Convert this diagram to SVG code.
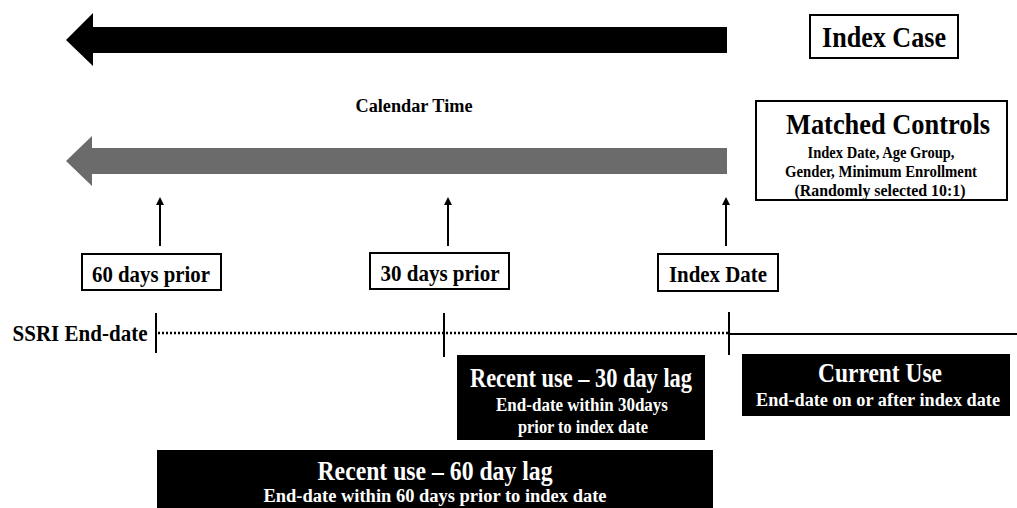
<svg xmlns="http://www.w3.org/2000/svg" width="1017" height="508" viewBox="0 0 1017 508">
<style>
text{font-family:"Liberation Serif","Times New Roman",serif;font-weight:bold;text-anchor:middle}
.box{fill:#fff;stroke:#000;stroke-width:2}
.blk{fill:#000}
.w{fill:#fff}
.ln{stroke:#000;stroke-width:2;fill:none}
</style>
<g id="index-case-arrow"><polygon points="66,40 93,13 93,27 727,27 727,53 93,53 93,66" fill="#000"/></g>
<g id="index-case"><rect class="box" x="810" y="15" width="148" height="43"/><text x="884" y="47" font-size="30" textLength="124" lengthAdjust="spacingAndGlyphs">Index Case</text></g>
<g id="calendar-time"><text x="414" y="112" font-size="18" textLength="117" lengthAdjust="spacingAndGlyphs">Calendar Time</text></g>
<g id="controls-arrow"><polygon points="66,161 92,136 92,148 727,148 727,174 92,174 92,186" fill="#6b6b6b"/></g>
<g id="matched-controls"><rect class="box" x="756" y="101" width="251" height="99"/>
<text x="888" y="134" font-size="29" textLength="204" lengthAdjust="spacingAndGlyphs">Matched Controls</text>
<text x="881" y="158" font-size="17" textLength="147" lengthAdjust="spacingAndGlyphs">Index Date, Age Group,</text>
<text x="881" y="177" font-size="17" textLength="192" lengthAdjust="spacingAndGlyphs">Gender, Minimum Enrollment</text>
<text x="880" y="196" font-size="17" textLength="171" lengthAdjust="spacingAndGlyphs">(Randomly selected 10:1)</text></g>
<g id="connectors">
<line class="ln" x1="160" y1="246" x2="160" y2="202"/><polygon points="160,197 156,205 164,205"/>
<line class="ln" x1="448" y1="246" x2="448" y2="202"/><polygon points="448,197 444,205 452,205"/>
<line class="ln" x1="726" y1="246" x2="726" y2="202"/><polygon points="726,197 722,205 730,205"/>
<line x1="158" y1="333" x2="729" y2="333" stroke="#000" stroke-width="2.5" stroke-dasharray="2 2"/>
<line class="ln" x1="729" y1="334" x2="1017" y2="334"/>
<line class="ln" x1="156" y1="313" x2="156" y2="353"/>
<line class="ln" x1="444" y1="313" x2="444" y2="357"/>
<line class="ln" x1="729" y1="312" x2="729" y2="355"/>
</g>
<g id="days60"><rect class="box" x="82" y="254" width="139" height="36"/><text x="151" y="282" font-size="23" textLength="118" lengthAdjust="spacingAndGlyphs">60 days prior</text></g>
<g id="days30"><rect class="box" x="370" y="253" width="139" height="36"/><text x="440" y="281" font-size="23" textLength="119" lengthAdjust="spacingAndGlyphs">30 days prior</text></g>
<g id="index-date"><rect class="box" x="658" y="254" width="120" height="37"/><text x="718" y="282" font-size="23" textLength="98" lengthAdjust="spacingAndGlyphs">Index Date</text></g>
<g id="ssri"><text x="80" y="341" font-size="23" textLength="135" lengthAdjust="spacingAndGlyphs">SSRI End-date</text></g>
<g id="recent30"><rect class="blk" x="457" y="355" width="248" height="85"/>
<text class="w" x="581" y="387" font-size="28" textLength="222" lengthAdjust="spacingAndGlyphs">Recent use – 30 day lag</text>
<text class="w" x="582" y="411" font-size="18" textLength="172" lengthAdjust="spacingAndGlyphs">End-date within 30days</text>
<text class="w" x="583" y="433" font-size="18" textLength="130" lengthAdjust="spacingAndGlyphs">prior to index date</text></g>
<g id="current"><rect class="blk" x="742" y="354" width="268" height="62"/>
<text class="w" x="880" y="382" font-size="28" textLength="124" lengthAdjust="spacingAndGlyphs">Current Use</text>
<text class="w" x="878" y="406" font-size="18" textLength="244" lengthAdjust="spacingAndGlyphs">End-date on or after index date</text></g>
<g id="recent60"><rect class="blk" x="157" y="450" width="556" height="58"/>
<text class="w" x="435" y="480" font-size="28" textLength="235" lengthAdjust="spacingAndGlyphs">Recent use – 60 day lag</text>
<text class="w" x="435" y="502" font-size="18" textLength="343" lengthAdjust="spacingAndGlyphs">End-date within 60 days prior to index date</text></g>
</svg>
